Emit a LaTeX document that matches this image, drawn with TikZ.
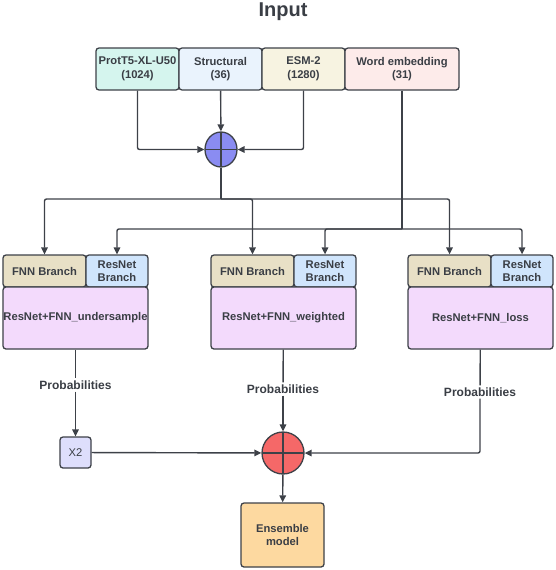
\documentclass[tikz,border=0pt]{standalone}
\usepackage{fontspec}
\setmainfont{Liberation Sans}
\usepackage{xcolor}
\usepackage{tikz}
\usetikzlibrary{shapes.geometric, arrows.meta, positioning, calc}

\definecolor{ln}{HTML}{3D4148}
\definecolor{txt}{HTML}{3A3E45}
\definecolor{protc}{HTML}{D5F5EE}
\definecolor{strc}{HTML}{EAF3FD}
\definecolor{esmc}{HTML}{F7F3E1}
\definecolor{wordc}{HTML}{FDEBEA}
\definecolor{fnnc}{HTML}{E8E0C6}
\definecolor{resc}{HTML}{D0E5FC}
\definecolor{pkc}{HTML}{F3DAFC}
\definecolor{xtwoc}{HTML}{DEDEFC}
\definecolor{ensc}{HTML}{FDD9A0}
\definecolor{bluec}{HTML}{8A8CF2}
\definecolor{redc}{HTML}{F56868}

\begin{document}
\begin{tikzpicture}[x=1pt,y=-1pt]
\tikzset{
  bx/.style={rectangle,rounded corners=3pt,draw=ln,line width=1.3pt,inner sep=0pt,align=center,text=txt,font=\bfseries\fontsize{11.2}{13.5}\selectfont},
  ib/.style={bx,minimum height=42pt,minimum width=83pt},
  fnnb/.style={bx,fill=fnnc,minimum width=83pt,minimum height=32pt},
  resb/.style={bx,fill=resc,minimum width=62pt,minimum height=32pt},
  pkb/.style={bx,fill=pkc,minimum width=145pt,minimum height=62pt},
  sumc/.style={draw=ln,line width=1.3pt,inner sep=0pt,
    path picture={\draw[ln,line width=1.3pt] (path picture bounding box.north) -- (path picture bounding box.south) (path picture bounding box.west) -- (path picture bounding box.east);}},
  pl/.style={fill=white,inner sep=2pt,text=txt,font=\bfseries\fontsize{12}{14}\selectfont},
  ln/.style={draw=ln,line width=1.4pt,rounded corners=2pt},
  ar/.style={ln,-{Triangle[length=7pt,width=6.5pt]}}
}
\useasboundingbox (0,0) rectangle (555,570);

% title and inputs
\node[text=txt,font=\bfseries\fontsize{20}{22}\selectfont] (title) at (283,12) {Input};
\node[ib,fill=protc] (prot) at (137.5,69) {ProtT5-XL-U50\\(1024)};
\node[ib,fill=strc] (str) at (220.5,69) {Structural\\(36)};
\node[ib,fill=esmc] (esm) at (303.5,69) {ESM-2\\(1280)};
\node[ib,fill=wordc,minimum width=114pt] (word) at (402,69) {Word embedding\\(31)};

\node[sumc,ellipse,fill=bluec,minimum width=32pt,minimum height=35pt] (plusa) at (221,149.5) {};
\draw[ar] (prot) |- (plusa);
\draw[ar] (str) -- (plusa);
\draw[ar] (esm) |- (plusa);

% three models
\foreach \i/\gx/\nm in {1/3/undersample,2/211/weighted,3/408/loss}{
  \node[fnnb] (fnn\i) at (\gx+41.5,271) {FNN Branch};
  \node[resb] (res\i) at (\gx+114,271) {ResNet\\Branch};
  \node[pkb] (pk\i) at (\gx+72.5,318) {ResNet+FNN\_\nm};
}

\coordinate (ja) at (221,199);
\coordinate (jb) at (402,229);
\draw[ln] (plusa) -- (ja);
\draw[ln] (word) -- (jb);
\foreach \i in {1,2,3}{\draw[ar] (ja) -| (fnn\i);}
\foreach \i in {1,2,3}{\draw[ar] (jb) -| (res\i);}

% ensemble
\node[pl] (pa) at (75.5,385) {Probabilities};
\node[pl] (pb) at (283,389) {Probabilities};
\node[pl] (pc) at (480,392) {Probabilities};
\node[bx,fill=xtwoc,minimum size=31pt,font=\fontsize{11.2}{13.5}\selectfont] (xtwo) at (75.5,452.5) {X2};
\node[sumc,circle,fill=redc,minimum size=42pt] (plusb) at (283,453) {};
\node[bx,fill=ensc,minimum width=83pt,minimum height=64pt] (ens) at (282.5,535) {Ensemble\\model};

\draw[ln] (pk1) -- (pa);
\draw[ln] (pk2) -- (pb);
\draw[ln] (pk3) -- (pc);
\draw[ar] (pa) -- (xtwo);
\draw[ar] (pb) -- (plusb);
\draw[ar] (pc) |- (plusb);
\draw[ar] (xtwo) -- (plusb);
\draw[ar] (plusb) -- (ens);
\end{tikzpicture}
\end{document}
